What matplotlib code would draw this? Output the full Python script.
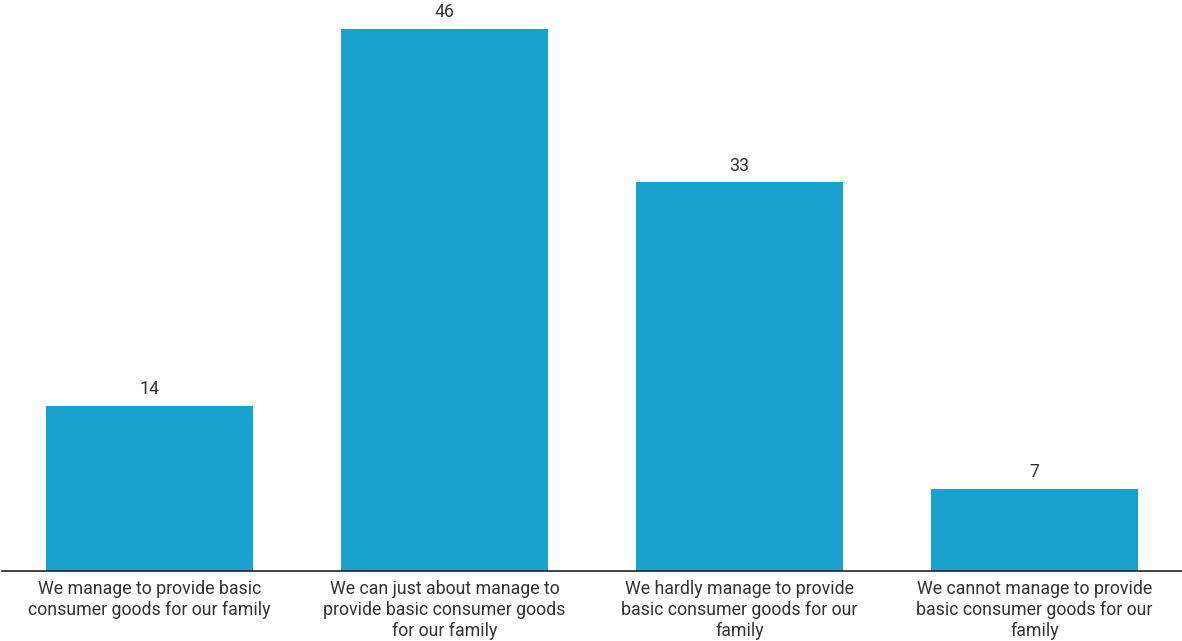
import matplotlib.pyplot as plt

plt.rcParams['font.family'] = ['Roboto', 'DejaVu Sans']

categories = [
    'We manage to provide basic\nconsumer goods for our family',
    'We can just about manage to\nprovide basic consumer goods\nfor our family',
    'We hardly manage to provide\nbasic consumer goods for our\nfamily',
    'We cannot manage to provide\nbasic consumer goods for our\nfamily',
]
values = [14, 46, 33, 7]

bar_color = '#1aa1cd'
text_color = '#333333'

fig = plt.figure(figsize=(11.82, 6.41), dpi=100)
ax = fig.add_axes([2 / 1182, 70 / 641, 1180 / 1182, 571 / 641])

x = range(len(categories))
bars = ax.bar(x, values, width=0.7, color=bar_color, zorder=2)

for b, v in zip(bars, values):
    ax.annotate(str(v), (b.get_x() + b.get_width() / 2, v), xytext=(0, 5.5),
                textcoords='offset points', ha='center', va='bottom',
                fontsize=12.75, color=text_color)

ax.set_xlim(-0.5, 3.5)
ax.set_ylim(0, 48.47)
ax.set_xticks(list(x))
ax.set_xticklabels(categories, fontsize=12.75, color=text_color, linespacing=1.2)
ax.tick_params(axis='x', length=0, pad=6.5)
ax.set_yticks([])

for s in ['top', 'right', 'left']:
    ax.spines[s].set_visible(False)
ax.spines['bottom'].set_color('#222222')
ax.spines['bottom'].set_linewidth(1.2)

fig.savefig('out.png', dpi=100)
